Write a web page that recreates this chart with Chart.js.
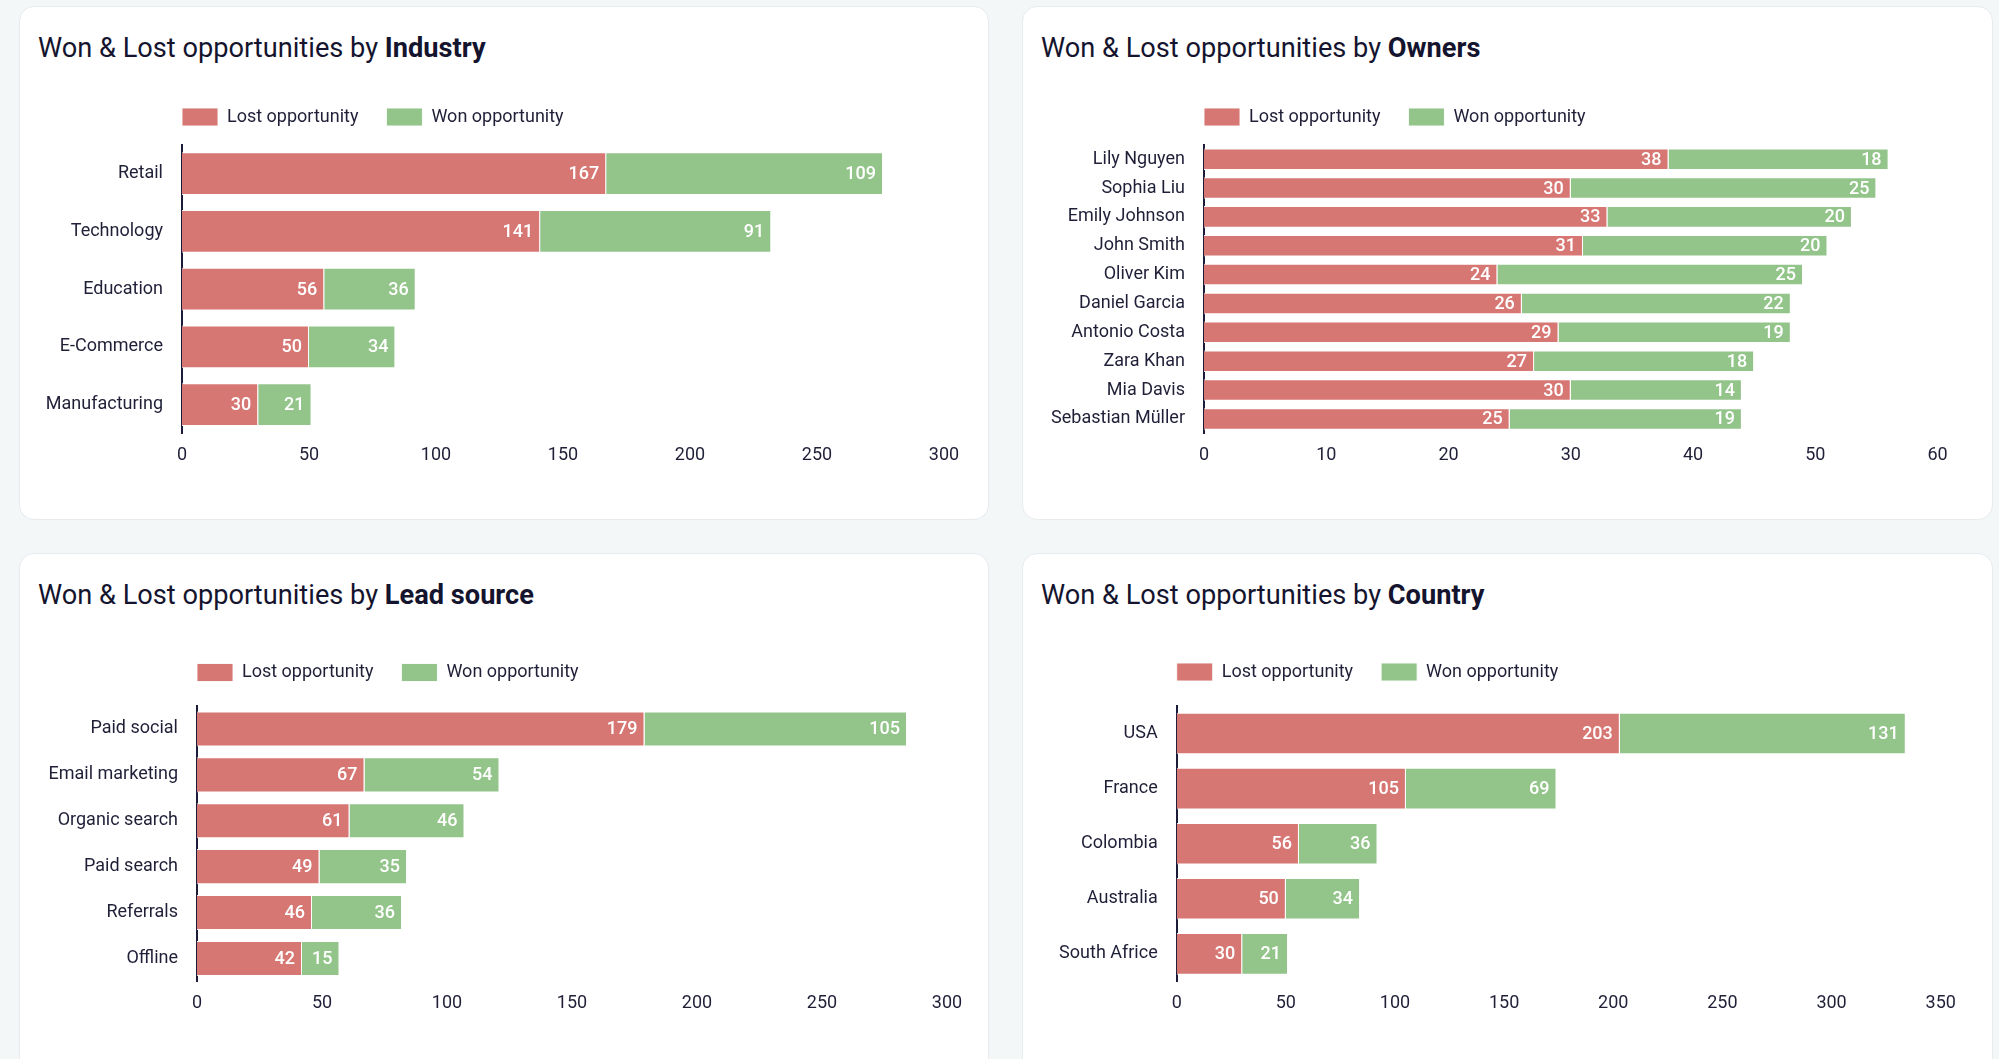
<!DOCTYPE html>
<html>
<head>
<meta charset="utf-8">
<script src="https://cdn.jsdelivr.net/npm/chart.js@4.4.1/dist/chart.umd.min.js"></script>
<style>
  html, body { margin: 0; padding: 0; }
  body { width: 1999px; height: 1059px; overflow: hidden; background: #f4f7f8; position: relative; font-family: Roboto, sans-serif; }
  .card { position: absolute; background: #fff; border: 1px solid #e7ebee; border-radius: 15px; box-sizing: border-box; }
  .title { position: absolute; left: 18px; top: 25px; font-size: 27.2px; line-height: 32px; color: #14142e; white-space: nowrap; }
  .title b { font-weight: 700; }
  .wrap { position: absolute; }
</style>
</head>
<body>
<div class="card" style="left:19px;top:6px;width:970px;height:514px;">
  <div class="title">Won &amp; Lost opportunities by <b>Industry</b></div>
</div>
<div class="card" style="left:1022px;top:6px;width:971px;height:514px;">
  <div class="title">Won &amp; Lost opportunities by <b>Owners</b></div>
</div>
<div class="card" style="left:19px;top:553px;width:970px;height:530px;">
  <div class="title">Won &amp; Lost opportunities by <b>Lead source</b></div>
</div>
<div class="card" style="left:1022px;top:553px;width:971px;height:530px;">
  <div class="title">Won &amp; Lost opportunities by <b>Country</b></div>
</div>

<div class="wrap" id="w1"><canvas id="c1"></canvas></div>
<div class="wrap" id="w2"><canvas id="c2"></canvas></div>
<div class="wrap" id="w3"><canvas id="c3"></canvas></div>
<div class="wrap" id="w4"><canvas id="c4"></canvas></div>

<script>
// --- data ---
const seriesNames = ['Lost opportunity', 'Won opportunity'];

const industries = ['Retail', 'Technology', 'Education', 'E-Commerce', 'Manufacturing'];
const industryLost = [167, 141, 56, 50, 30];
const industryWon = [109, 91, 36, 34, 21];
const industryTicks = [0, 50, 100, 150, 200, 250, 300];

const owners = ['Lily Nguyen', 'Sophia Liu', 'Emily Johnson', 'John Smith', 'Oliver Kim',
  'Daniel Garcia', 'Antonio Costa', 'Zara Khan', 'Mia Davis', 'Sebastian Müller'];
const ownerLost = [38, 30, 33, 31, 24, 26, 29, 27, 30, 25];
const ownerWon = [18, 25, 20, 20, 25, 22, 19, 18, 14, 19];
const ownerTicks = [0, 10, 20, 30, 40, 50, 60];

const leadSources = ['Paid social', 'Email marketing', 'Organic search', 'Paid search', 'Referrals', 'Offline'];
const leadLost = [179, 67, 61, 49, 46, 42];
const leadWon = [105, 54, 46, 35, 36, 15];
const leadTicks = [0, 50, 100, 150, 200, 250, 300];

const countries = ['USA', 'France', 'Colombia', 'Australia', 'South Africe'];
const countryLost = [203, 105, 56, 50, 30];
const countryWon = [131, 69, 36, 34, 21];
const countryTicks = [0, 50, 100, 150, 200, 250, 300, 350];

// --- look ---
const RED = '#d67774';
const GREEN = '#93c58b';
const TEXT = '#1f1f38';
const FONT = 'Roboto';
const LEGEND_GAP = 28;
const X_SCALE_H = 37;
const LEGEND_H = LEGEND_GAP + 18 + 10;

// page positions of each plot area (px)
const layouts = [
  { id: 'c1', wrap: 'w1', box: [19, 60, 989, 520], area: [182, 144.7, 944, 432], legendY: 117, bar: 0.74 },
  { id: 'c2', wrap: 'w2', box: [1022, 60, 1993, 520], area: [1204, 144.7, 1937.5, 432], legendY: 117, bar: 0.745 },
  { id: 'c3', wrap: 'w3', box: [19, 600, 989, 1059], area: [197, 706, 947, 980], legendY: 672.5, bar: 0.765 },
  { id: 'c4', wrap: 'w4', box: [1022, 600, 1993, 1059], area: [1176.7, 706, 1940.7, 980], legendY: 672, bar: 0.755 }
];

const barLabels = {
  id: 'barLabels',
  afterDatasetsDraw(chart) {
    const ctx = chart.ctx;
    ctx.save();
    ctx.font = '500 18px ' + FONT;
    ctx.fillStyle = '#ffffff';
    ctx.textAlign = 'right';
    ctx.textBaseline = 'middle';
    chart.data.datasets.forEach((ds, i) => {
      chart.getDatasetMeta(i).data.forEach((bar, j) => {
        ctx.fillText(ds.data[j], bar.x - 7, bar.y + 1);
      });
    });
    ctx.restore();
  }
};

// put the legend flush with the plot's left edge
const legendShift = {
  id: 'legendShift',
  afterLayout(chart, args, opts) {
    const lg = chart.legend;
    if (!lg) return;
    lg.left = chart.chartArea.left - LEGEND_GAP;
    lg.top = opts.centerY - LEGEND_GAP - 9;
  }
};

function makeChart(lay, labels, lost, won, ticks) {
  const [bl, bt, br, bb] = lay.box;
  const [al, at, ar, ab] = lay.area;
  const wrap = document.getElementById(lay.wrap);
  wrap.style.left = bl + 'px';
  wrap.style.top = bt + 'px';
  wrap.style.width = (br - bl) + 'px';
  wrap.style.height = (bb - bt) + 'px';

  const yWidth = al - bl;
  const padTop = at - bt - LEGEND_H;
  const padRight = br - ar;
  const padBottom = bb - ab - X_SCALE_H;

  return new Chart(document.getElementById(lay.id), {
    type: 'bar',
    data: {
      labels: labels,
      datasets: [
        { label: seriesNames[0], data: lost, backgroundColor: RED, borderColor: 'rgba(255,255,255,0.9)', borderWidth: 1 },
        { label: seriesNames[1], data: won, backgroundColor: GREEN, borderColor: 'rgba(255,255,255,0.9)', borderWidth: 1 }
      ]
    },
    options: {
      indexAxis: 'y',
      responsive: true,
      maintainAspectRatio: false,
      animation: false,
      devicePixelRatio: 1,
      datasets: { bar: { categoryPercentage: 1, barPercentage: lay.bar } },
      layout: { padding: { left: 0, top: padTop, right: padRight, bottom: padBottom } },
      scales: {
        x: {
          stacked: true,
          min: ticks[0],
          max: ticks[ticks.length - 1],
          afterBuildTicks: s => { s.ticks = ticks.map(v => ({ value: v })); },
          grid: { display: false },
          border: { display: false },
          ticks: { color: TEXT, font: { family: FONT, size: 18 }, padding: 3 }
        },
        y: {
          stacked: true,
          afterFit: s => { s.width = yWidth; },
          grid: { display: false },
          border: { display: true, color: '#1c1c38', width: 2 },
          ticks: { color: TEXT, font: { family: FONT, size: 18 }, padding: 11 }
        }
      },
      plugins: {
        legend: {
          position: 'top',
          align: 'start',
          labels: {
            boxWidth: 36,
            boxHeight: 18,
            padding: LEGEND_GAP,
            color: TEXT,
            font: { family: FONT, size: 18 }
          }
        },
        tooltip: { enabled: false },
        legendShift: { centerY: lay.legendY - bt }
      }
    },
    plugins: [barLabels, legendShift]
  });
}

makeChart(layouts[0], industries, industryLost, industryWon, industryTicks);
makeChart(layouts[1], owners, ownerLost, ownerWon, ownerTicks);
makeChart(layouts[2], leadSources, leadLost, leadWon, leadTicks);
makeChart(layouts[3], countries, countryLost, countryWon, countryTicks);
</script>
</body>
</html>
